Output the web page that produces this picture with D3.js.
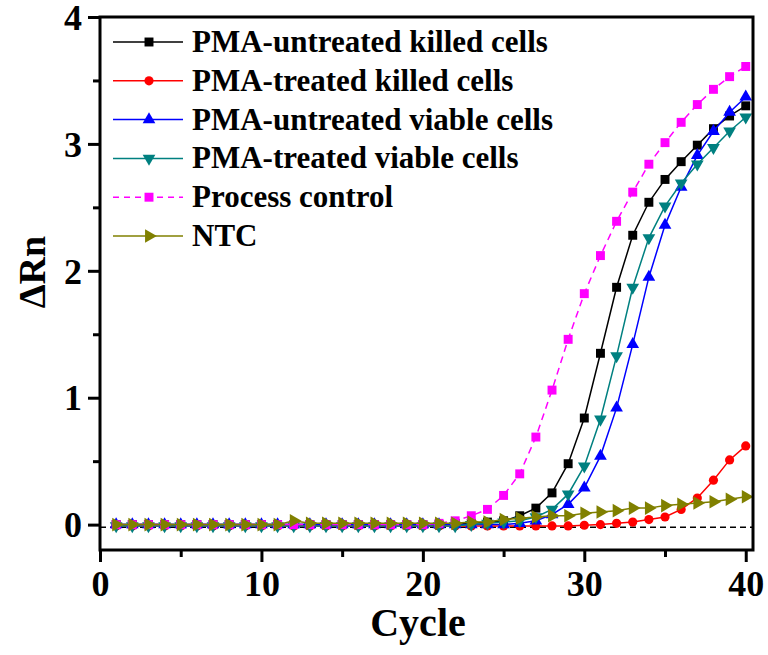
<!DOCTYPE html>
<html>
<head>
<meta charset="utf-8">
<script src="https://cdn.jsdelivr.net/npm/d3@7"></script>
<style>
  body { margin: 0; background: #fff; }
  svg { display: block; }
  text { font-family: "Liberation Serif", "Times New Roman", serif; font-weight: bold; fill: #000; }
</style>
</head>
<body>
<svg id="chart" width="768" height="655"></svg>
<script>
// ---- data ----
const cycles = [1,2,3,4,5,6,7,8,9,10,11,12,13,14,15,16,17,18,19,20,21,22,23,24,25,26,27,28,29,30,31,32,33,34,35,36,37,38,39,40];

const untreatedKilled = [0,0,0,0,0,0,0,0,0,0,0,0,0,0,0,0,0,0,0,0,0,0.01,0.01,0.02,0.03,0.07,0.13,0.25,0.48,0.84,1.35,1.87,2.28,2.54,2.72,2.86,2.99,3.12,3.22,3.30];
const treatedKilled = [-0.01,-0.01,-0.01,-0.01,-0.01,-0.01,-0.01,-0.01,-0.01,-0.01,-0.01,-0.01,-0.01,-0.01,-0.01,-0.01,-0.01,-0.01,-0.01,-0.01,-0.01,-0.01,-0.01,-0.01,-0.01,-0.01,-0.01,-0.01,-0.01,-0.005,0,0.01,0.02,0.04,0.06,0.12,0.21,0.35,0.51,0.62];
const untreatedViable = [0,0,0,0,0,0,0,0,0,0,0,0,0,0,0,0,0,0,0,0,0,0,0,0,0,0.01,0.03,0.08,0.16,0.29,0.54,0.92,1.42,1.95,2.36,2.66,2.91,3.10,3.25,3.37];
const treatedViable = [-0.01,-0.01,-0.01,-0.01,-0.01,-0.01,-0.01,-0.01,-0.01,-0.01,-0.01,-0.01,-0.01,-0.01,-0.01,-0.01,-0.01,-0.01,-0.01,-0.01,-0.01,-0.01,0,0.01,0.02,0.03,0.06,0.12,0.24,0.46,0.83,1.33,1.87,2.26,2.51,2.69,2.84,2.97,3.10,3.21];
const processControl = [0,0,0,0,0,0,0,0,0,0,0,0,0,0,0,0,0,0,0,0,0.01,0.03,0.07,0.12,0.23,0.40,0.69,1.06,1.46,1.82,2.12,2.39,2.62,2.84,3.01,3.17,3.31,3.43,3.53,3.61];
const ntc = [0,0,0,0,0,0,0,0,0,0,0,0.03,0.01,0.01,0.01,0.01,0.01,0.01,0.01,0.01,0.01,0.01,0.02,0.02,0.04,0.05,0.06,0.07,0.07,0.09,0.10,0.11,0.13,0.13,0.15,0.16,0.17,0.18,0.20,0.22];

const seriesNames = ["PMA-untreated killed cells","PMA-treated killed cells","PMA-untreated viable cells","PMA-treated viable cells","Process control","NTC"];
const seriesColors = ["#000000","#ff0000","#0000ff","#008080","#ff00ff","#808000"];
const seriesShapes = ["square","circle","up","down","square","right"];
const seriesDashed = [false,false,false,false,true,false];
const seriesValues = [untreatedKilled, treatedKilled, untreatedViable, treatedViable, processControl, ntc];

const xTicks = [0,10,20,30,40];
const xMinorTicks = [5,15,25,35];
const yTicks = [0,1,2,3,4];
const yMinorTicks = [0.5,1.5,2.5,3.5];
const baselineValue = -0.02;

// ---- layout ----
const svg = d3.select("#chart");
const L = 100, R = 753, T = 17, B = 550;
const x = d3.scaleLinear().domain([0, 40.45]).range([L, R]);
const y = d3.scaleLinear().domain([-0.2, 4]).range([B, T]);

function symbolPath(shape) {
  if (shape === "square") return { d: d3.symbol(d3.symbolSquare, 80)(), rot: 0 };
  if (shape === "circle") return { d: d3.symbol(d3.symbolCircle, 66)(), rot: 0 };
  if (shape === "up") return { d: d3.symbol(d3.symbolTriangle, 70)(), rot: 0 };
  if (shape === "down") return { d: d3.symbol(d3.symbolTriangle, 70)(), rot: 180 };
  if (shape === "right") return { d: d3.symbol(d3.symbolTriangle, 80)(), rot: 90 };
}

// baseline dashed line
svg.append("line")
  .attr("x1", x(0)).attr("x2", R)
  .attr("y1", y(baselineValue)).attr("y2", y(baselineValue))
  .attr("stroke", "#000").attr("stroke-width", 1.5)
  .attr("stroke-dasharray", "6,4");

// series
const line = d3.line().x((d, i) => x(cycles[i])).y(d => y(d));
seriesValues.forEach((vals, si) => {
  const g = svg.append("g");
  g.append("path")
    .attr("d", line(vals))
    .attr("fill", "none")
    .attr("stroke", seriesColors[si])
    .attr("stroke-width", 1.5)
    .attr("stroke-dasharray", seriesDashed[si] ? "7,5" : null);
  const sp = symbolPath(seriesShapes[si]);
  g.selectAll("path.m").data(vals).join("path")
    .attr("class", "m")
    .attr("d", sp.d)
    .attr("transform", (d, i) => `translate(${x(cycles[i])},${y(d)}) rotate(${sp.rot})`)
    .attr("fill", seriesColors[si]);
});

// frame
svg.append("rect")
  .attr("x", L).attr("y", T).attr("width", R - L).attr("height", B - T)
  .attr("fill", "none").attr("stroke", "#000").attr("stroke-width", 3);

// axes
const xAxis = svg.append("g").attr("transform", `translate(0,${B})`)
  .call(d3.axisBottom(x).tickValues(xTicks).tickSize(12).tickSizeOuter(0).tickFormat(d3.format("d")));
xAxis.select(".domain").remove();
xAxis.selectAll(".tick line").attr("stroke-width", 3);
xAxis.selectAll(".tick text").attr("y", 46).attr("dy", 0)
  .style("font-size", "36px").style("font-family", '"Liberation Serif", serif').style("font-weight", "bold");
const xMinor = svg.append("g").attr("transform", `translate(0,${B})`)
  .call(d3.axisBottom(x).tickValues(xMinorTicks).tickSize(7).tickFormat(""));
xMinor.select(".domain").remove();
xMinor.selectAll(".tick line").attr("stroke-width", 3);

const yAxis = svg.append("g").attr("transform", `translate(${L},0)`)
  .call(d3.axisLeft(y).tickValues(yTicks).tickSize(12).tickSizeOuter(0).tickFormat(d3.format("d")));
yAxis.select(".domain").remove();
yAxis.selectAll(".tick line").attr("stroke-width", 3);
yAxis.selectAll(".tick text").attr("x", -18).attr("dy", "0.34em")
  .style("font-size", "36px").style("font-family", '"Liberation Serif", serif').style("font-weight", "bold");
const yMinor = svg.append("g").attr("transform", `translate(${L},0)`)
  .call(d3.axisLeft(y).tickValues(yMinorTicks).tickSize(7).tickFormat(""));
yMinor.select(".domain").remove();
yMinor.selectAll(".tick line").attr("stroke-width", 3);

// axis titles
svg.append("text")
  .attr("x", 418).attr("y", 636)
  .attr("text-anchor", "middle")
  .style("font-size", "40px")
  .text("Cycle");
svg.append("text")
  .attr("transform", "translate(45,272) rotate(-90)")
  .attr("text-anchor", "middle")
  .style("font-size", "38px")
  .text("ΔRn");

// legend
const leg = svg.append("g");
seriesNames.forEach((name, i) => {
  const cy = 42 + i * 38.8;
  leg.append("line")
    .attr("x1", 113).attr("x2", 183).attr("y1", cy).attr("y2", cy)
    .attr("stroke", seriesColors[i]).attr("stroke-width", 1.5)
    .attr("stroke-dasharray", seriesDashed[i] ? "6,5" : null);
  const sp = symbolPath(seriesShapes[i]);
  leg.append("path")
    .attr("d", sp.d)
    .attr("transform", `translate(149,${cy}) rotate(${sp.rot})`)
    .attr("fill", seriesColors[i]);
  leg.append("text")
    .attr("x", 192).attr("y", cy + 10)
    .style("font-size", "31px")
    .text(name);
});
</script>
</body>
</html>
